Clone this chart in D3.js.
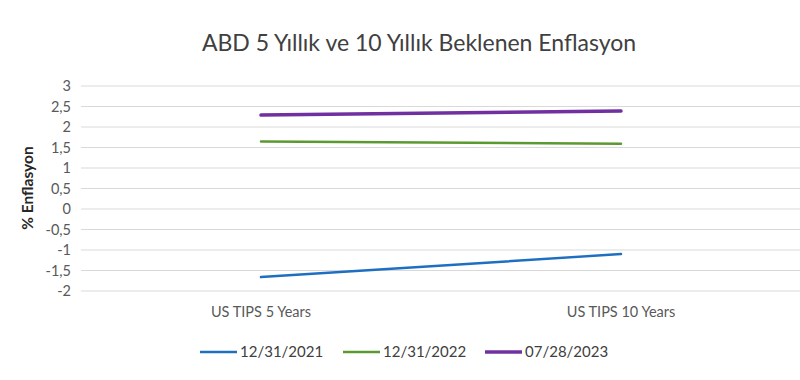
<!DOCTYPE html>
<html>
<head>
<meta charset="utf-8">
<script src="https://cdn.jsdelivr.net/npm/d3@7"></script>
<style>
  body { margin: 0; background: #fff; }
  text { font-family: Lato, "Open Sans", sans-serif; }
</style>
</head>
<body>
<div id="chart"></div>
<script>
var categories = ["US TIPS 5 Years", "US TIPS 10 Years"];
var seriesNames = ["12/31/2021", "12/31/2022", "07/28/2023"];
var s2021 = [-1.66, -1.10];
var s2022 = [1.645, 1.59];
var s2023 = [2.29, 2.39];
var yTicks = [-2, -1.5, -1, -0.5, 0, 0.5, 1, 1.5, 2, 2.5, 3];
var colors = ["#1f6fc0", "#5b9a31", "#7030a0"];
var widths = [2.5, 2.5, 3.5];

var series = [s2021, s2022, s2023];

var W = 800, H = 380;
var pLeft = 81, pRight = 801, pTop = 86, pBottom = 291;

var svg = d3.select("#chart").append("svg")
  .attr("width", W).attr("height", H);

var x = d3.scaleBand().domain(categories).range([pLeft, pRight]);
var y = d3.scaleLinear().domain([-2, 3]).range([pBottom, pTop]);

// grid
svg.append("g").selectAll("line")
  .data(yTicks).enter().append("line")
  .attr("x1", pLeft).attr("x2", 800)
  .attr("y1", function(d) { return y(d); })
  .attr("y2", function(d) { return y(d); })
  .attr("stroke", "#d9d9d9").attr("stroke-width", 1);

// y labels
svg.append("g").selectAll("text")
  .data(yTicks).enter().append("text")
  .attr("x", 71)
  .attr("y", function(d) { return y(d) + 5; })
  .attr("text-anchor", "end")
  .attr("fill", "#595959")
  .attr("font-size", 14.5)
  .text(function(d) { return String(d).replace(".", ","); });

// x labels
svg.append("g").selectAll("text")
  .data(categories).enter().append("text")
  .attr("x", function(d) { return x(d) + x.bandwidth() / 2; })
  .attr("y", 317)
  .attr("text-anchor", "middle")
  .attr("fill", "#595959")
  .attr("font-size", 14.5)
  .text(function(d) { return d; });

// lines
var line = d3.line()
  .x(function(d, i) { return x(categories[i]) + x.bandwidth() / 2; })
  .y(function(d) { return y(d); });

svg.append("g").selectAll("path")
  .data(series).enter().append("path")
  .attr("d", function(d) { return line(d); })
  .attr("fill", "none")
  .attr("stroke", function(d, i) { return colors[i]; })
  .attr("stroke-width", function(d, i) { return widths[i]; })
  .attr("stroke-linecap", "round");

// title
svg.append("text")
  .attr("x", 419).attr("y", 51)
  .attr("text-anchor", "middle")
  .attr("fill", "#404040")
  .attr("font-size", 23)
  .text("ABD 5 Yıllık ve 10 Yıllık Beklenen Enflasyon");

// y axis title
svg.append("text")
  .attr("transform", "translate(33,188) rotate(-90)")
  .attr("text-anchor", "middle")
  .attr("fill", "#262626")
  .attr("font-size", 15.5)
  .attr("font-weight", "bold")
  .text("% Enflasyon");

// legend
var legX = [200, 343, 485];
var leg = svg.append("g").selectAll("g")
  .data(seriesNames).enter().append("g")
  .attr("transform", function(d, i) { return "translate(" + legX[i] + ",352)"; });

leg.append("line")
  .attr("x1", 0).attr("x2", 37)
  .attr("stroke", function(d, i) { return colors[i]; })
  .attr("stroke-width", function(d, i) { return widths[i]; });

leg.append("text")
  .attr("x", 40).attr("y", 5)
  .attr("fill", "#404040")
  .attr("font-size", 15)
  .text(function(d) { return d; });
</script>
</body>
</html>
